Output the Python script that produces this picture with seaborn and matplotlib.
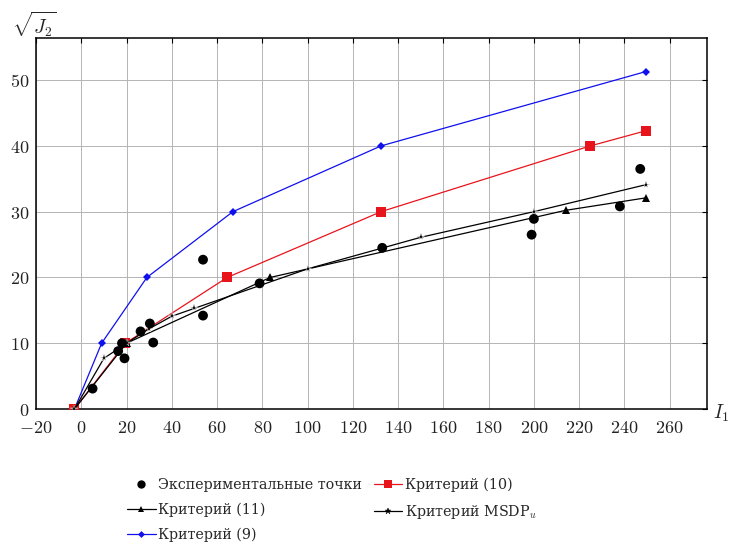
import matplotlib
matplotlib.use("Agg")
import matplotlib.pyplot as plt
from matplotlib.lines import Line2D
from matplotlib.ticker import FuncFormatter
import seaborn as sns

# Experimental points
exp_i1 = [5, 16.3, 18, 19.1, 26.2, 30.3, 31.8, 53.8, 53.8, 78.8, 133, 199, 200, 238, 247]
exp_j2 = [3.1, 8.8, 10.0, 7.7, 11.8, 13.0, 10.1, 22.7, 14.2, 19.1, 24.5, 26.5, 28.9, 30.8, 36.5]

# Criterion (9)
c9_i1 = [-3, 9, 29, 67, 132.5, 249.5]
c9_j2 = [0, 10, 20, 30, 40, 51.3]

# Criterion (10)
c10_i1 = [-3, 19.5, 64.5, 132.5, 225, 249.5]
c10_j2 = [0, 10, 20, 30, 40, 42.3]

# Criterion (11)
c11_i1 = [-3, 20, 83.5, 214, 249.5]
c11_j2 = [0, 10, 20, 30.2, 32.1]

# Criterion MSDP_u
msdp_i1 = [-3, 10, 20, 30, 40, 50, 100, 150, 200, 249.5]
msdp_j2 = [0, 7.7, 10, 12.2, 14.1, 15.3, 21.3, 26.1, 30.0, 34.1]

x_ticks = list(range(-20, 261, 20))
y_ticks = [0, 10, 20, 30, 40, 50]

label_exp = "Экспериментальные точки"
label_c10 = "Критерий (10)"
label_c11 = "Критерий (11)"
label_msdp = "Критерий MSDP$_u$"
label_c9 = "Критерий (9)"

sns.set_theme(style="white")
plt.rcParams["mathtext.fontset"] = "cm"
plt.rcParams["font.family"] = ["DejaVu Serif"]

fig = plt.figure(figsize=(7.34, 5.46), dpi=100)
ax = fig.add_axes([36 / 734, 1 - 409 / 546, (707 - 36) / 734, (409 - 38) / 546])

lw = 0.9
sns.lineplot(x=c9_i1, y=c9_j2, sort=False, ax=ax, color="#1010ee", lw=lw,
             marker="D", markersize=4.5, markeredgewidth=0, zorder=3)
sns.lineplot(x=c10_i1, y=c10_j2, sort=False, ax=ax, color="#e8141c", lw=lw,
             marker="s", markersize=6.5, markeredgewidth=0, zorder=3)
sns.lineplot(x=c11_i1, y=c11_j2, sort=False, ax=ax, color="black", lw=lw,
             marker="^", markersize=5.5, markeredgewidth=0, zorder=3)
sns.lineplot(x=msdp_i1, y=msdp_j2, sort=False, ax=ax, color="black", lw=lw,
             marker="*", markersize=5.5, markeredgewidth=0.3, zorder=3)
sns.scatterplot(x=exp_i1, y=exp_j2, ax=ax, color="black", s=50,
                edgecolor="none", zorder=4)

ax.set_xlim(-20, 276.5)
ax.set_ylim(0, 56.4)
ax.set_xticks(x_ticks)
ax.set_yticks(y_ticks)
tick_fmt = FuncFormatter(lambda v, pos: r"$%d$" % round(v))
ax.xaxis.set_major_formatter(tick_fmt)
ax.yaxis.set_major_formatter(tick_fmt)
ax.grid(True, color="#b4b4b4", lw=0.7)
ax.tick_params(axis="both", direction="in", length=3.5, width=0.8,
               colors="black", labelsize=13)
ax.tick_params(axis="x", pad=7)
ax.tick_params(axis="y", pad=5)
ax.tick_params(top=True, right=True)
for lab in ax.get_xticklabels() + ax.get_yticklabels():
    lab.set_color("#222222")
for sp in ax.spines.values():
    sp.set_color("black")
    sp.set_linewidth(1.1)

fig.text(12 / 734, 1 - 24 / 546, r"$\sqrt{J_2}$", fontsize=14, va="center", ha="left")
fig.text(713 / 734, 1 - 413 / 546, r"$I_1$", fontsize=14, va="center", ha="left")

handles = [
    Line2D([], [], ls="none", marker="o", color="black", markersize=6, markeredgewidth=0),
    Line2D([], [], color="black", lw=lw, marker="^", markersize=4.5, markeredgewidth=0),
    Line2D([], [], color="#1010ee", lw=lw, marker="D", markersize=3.5, markeredgewidth=0),
    Line2D([], [], color="#e8141c", lw=lw, marker="s", markersize=5.5, markeredgewidth=0),
    Line2D([], [], color="black", lw=lw, marker="*", markersize=5, markeredgewidth=0.3),
]
labels = [label_exp, label_c11, label_c9, label_c10, label_msdp]
fig.legend(handles, labels, loc="upper left", bbox_to_anchor=(127 / 734, 1 - 478 / 546),
           ncol=2, frameon=False, fontsize=10.3, borderpad=0, handlelength=2.0,
           handletextpad=0.2, columnspacing=0.8, labelspacing=0.72, borderaxespad=0)

fig.savefig("out.png", dpi=100, facecolor="white")
